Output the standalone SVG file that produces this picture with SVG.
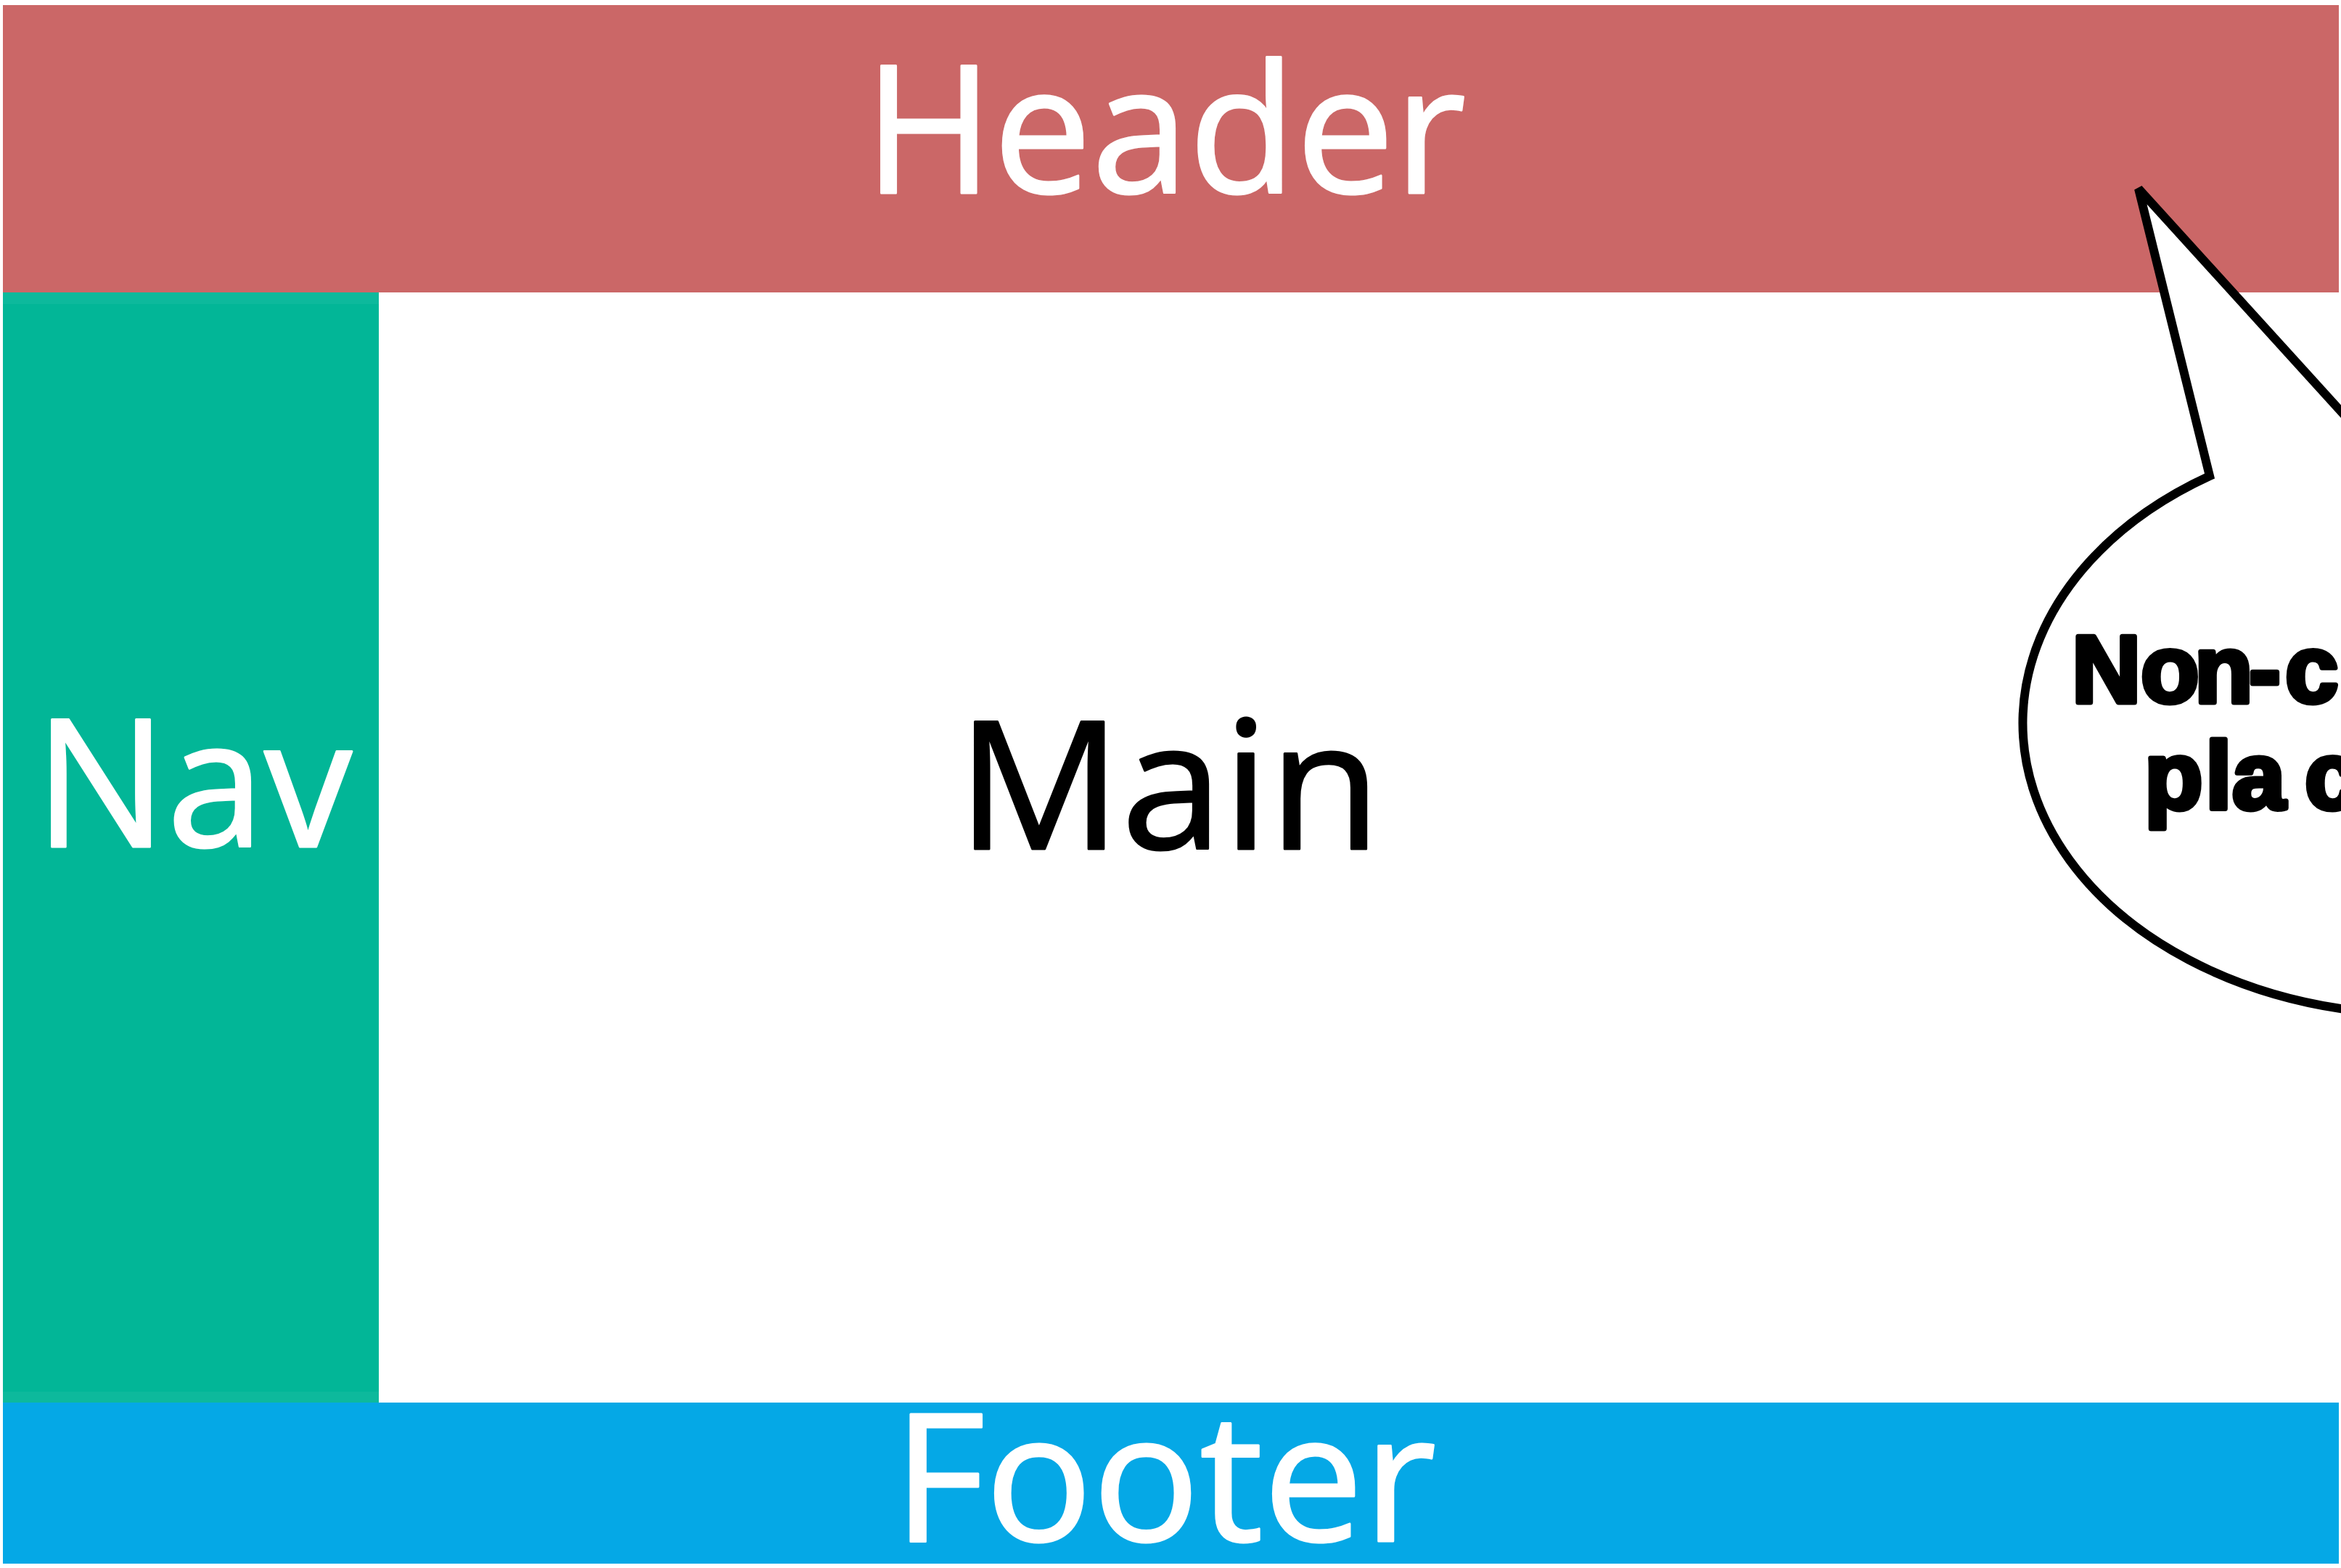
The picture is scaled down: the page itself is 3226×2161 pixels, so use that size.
<svg xmlns="http://www.w3.org/2000/svg" width="3226" height="2161" viewBox="0 0 3226 2161">
  <style>
    .lbl { font-family: "Open Sans", "Liberation Sans", sans-serif; font-size: 245px; stroke-width: 3; stroke-linejoin: round; }
    .white { fill: #ffffff; stroke: #ffffff; }
    .black { fill: #000000; stroke: #000000; }
    .bub { font-family: "Liberation Sans", "DejaVu Sans", sans-serif; font-weight: bold; font-size: 132px; fill: #000000; stroke: #000000; stroke-width: 7; stroke-linejoin: round; }
  </style>
  <rect x="0" y="0" width="3226" height="2161" fill="#ffffff"/>
  <g id="main">
    <rect x="522" y="403" width="2701" height="1530" fill="#ffffff"/>
    <text class="lbl black" x="1319" y="1170" textLength="584" lengthAdjust="spacingAndGlyphs">Main</text>
  </g>
  <g id="header">
    <rect x="4" y="7" width="3219" height="396" fill="#CB6767"/>
    <text class="lbl white" x="1191" y="266" textLength="829" lengthAdjust="spacingAndGlyphs">Header</text>
  </g>
  <g id="nav">
    <rect x="4" y="403" width="518" height="1530" fill="#02B697"/>
    <rect x="4" y="403" width="518" height="16" fill="#0DB99C"/>
    <rect x="4" y="1918" width="518" height="15" fill="#0DB99C"/>
    <text class="lbl white" x="48" y="1167" textLength="437" lengthAdjust="spacingAndGlyphs">Nav</text>
  </g>
  <g id="footer">
    <rect x="4" y="1933" width="3219" height="222" fill="#05A8E6"/>
    <text class="lbl white" x="1231" y="2124" textLength="748" lengthAdjust="spacingAndGlyphs">Footer</text>
  </g>
  <g id="callout">
    <path d="M 3045 656 L 2947 260 L 3255 599 A 550 402 0 1 1 3045 656 Z" fill="#ffffff" stroke="#000000" stroke-width="12" stroke-linejoin="miter"/>
    <text class="bub" x="2855 2950 3024 3099 3149" y="968">Non-c</text>
    <text class="bub" x="2955 3039 3076 3176" y="1115">plac</text>
  </g>
</svg>
